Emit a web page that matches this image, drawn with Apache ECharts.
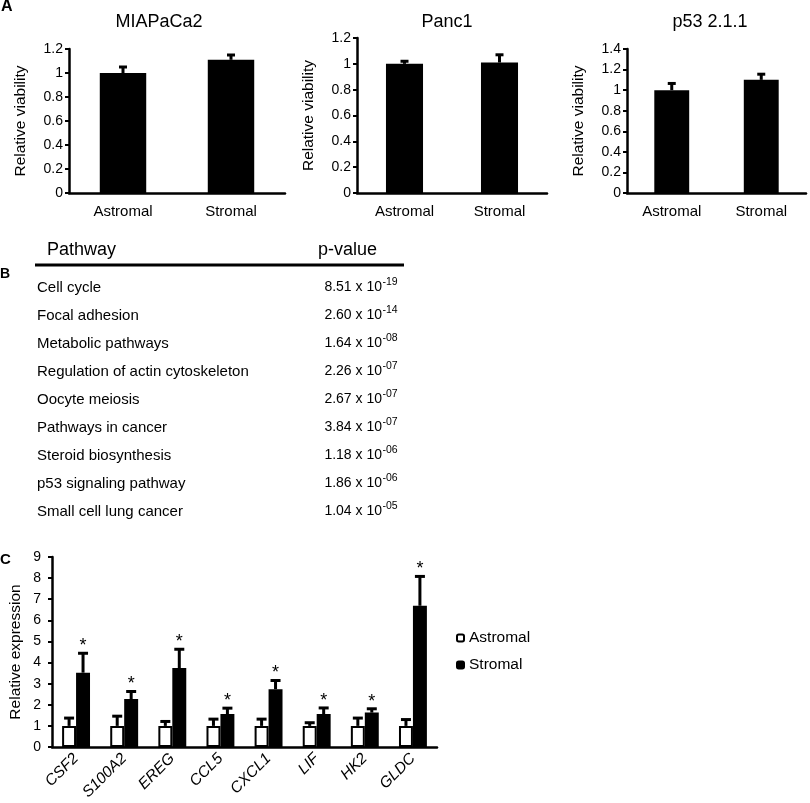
<!DOCTYPE html>
<html>
<head>
<meta charset="utf-8">
<script src="https://cdn.jsdelivr.net/npm/echarts@6/dist/echarts.min.js"></script>
<style>
  html, body { margin: 0; padding: 0; background: #fff; }
  #chart { width: 810px; height: 803px; }
</style>
</head>
<body>
<div id="chart"></div>
<script>
// ---------- Data ----------
const panelATitles = ['MIAPaCa2', 'Panc1', 'p53 2.1.1'];
const panelACategories = ['Astromal', 'Stromal'];
const miapacaValues = [1.00, 1.11];
const miapacaErrors = [0.05, 0.04];
const panc1Values = [1.00, 1.01];
const panc1Errors = [0.02, 0.06];
const p53Values = [1.00, 1.10];
const p53Errors = [0.065, 0.055];
const panelAMax = [1.2, 1.2, 1.4];

const pathways = ['Cell cycle', 'Focal adhesion', 'Metabolic pathways', 'Regulation of actin cytoskeleton',
  'Oocyte meiosis', 'Pathways in cancer', 'Steroid biosynthesis', 'p53 signaling pathway', 'Small cell lung cancer'];
const pMantissa = ['8.51', '2.60', '1.64', '2.26', '2.67', '3.84', '1.18', '1.86', '1.04'];
const pExponent = ['-19', '-14', '-08', '-07', '-07', '-07', '-06', '-06', '-05'];

const genes = ['CSF2', 'S100A2', 'EREG', 'CCL5', 'CXCL1', 'LIF', 'HK2', 'GLDC'];
const astromalExpr = [1, 1, 1, 1, 1, 1, 1, 1];
const astromalErr = [0.37, 0.46, 0.21, 0.32, 0.32, 0.15, 0.37, 0.30];
const stromalExpr = [3.52, 2.27, 3.74, 1.56, 2.74, 1.56, 1.63, 6.69];
const stromalErr = [0.92, 0.36, 0.89, 0.28, 0.41, 0.29, 0.18, 1.39];
const stromalSignificant = [1, 1, 1, 1, 1, 1, 1, 1];

// ---------- Helpers ----------
const FONT = '"Liberation Sans", Arial, Helvetica, sans-serif';
const BLACK = '#000';

function errorRenderer(capHalf, lw) {
  return function (params, api) {
    const x = api.value(0), v = api.value(1), e = api.value(2), off = api.value(3), star = api.value(4);
    const bw = api.size([1, 0])[0];
    const p0 = api.coord([x, v]);
    const p1 = api.coord([x, v + e]);
    const cx = p0[0] + off * bw;
    const children = [
      { type: 'line', shape: { x1: cx, y1: p0[1], x2: cx, y2: p1[1] }, style: { stroke: BLACK, lineWidth: lw } },
      { type: 'line', shape: { x1: cx - capHalf, y1: p1[1], x2: cx + capHalf, y2: p1[1] }, style: { stroke: BLACK, lineWidth: lw } }
    ];
    if (star) {
      children.push({ type: 'text', x: cx, y: p1[1] + 2,
        style: { text: '*', align: 'center', verticalAlign: 'bottom', fontSize: 18, fontFamily: FONT, fill: BLACK } });
    }
    return { type: 'group', children };
  };
}

const chart = echarts.init(document.getElementById('chart'), null, { renderer: 'canvas' });

const gridsA = [
  { left: 69, top: 49, width: 216, height: 144 },
  { left: 357, top: 38, width: 190, height: 155 },
  { left: 627, top: 49, width: 179, height: 144 }
];
const gridC = { left: 52, top: 557, width: 385, height: 190 };

const valuesA = [miapacaValues, panc1Values, p53Values];
const errorsA = [miapacaErrors, panc1Errors, p53Errors];
const barWidthA = ['43%', '39%', '39%'];

const grid = [...gridsA, gridC];
const xAxis = [];
const yAxis = [];
const series = [];

for (let i = 0; i < 3; i++) {
  xAxis.push({
    type: 'category', gridIndex: i, data: panelACategories,
    axisLine: { lineStyle: { color: BLACK, width: 2.5 } },
    axisTick: { length: 5, lineStyle: { color: BLACK, width: 2 } },
    axisLabel: { color: BLACK, fontSize: 15, fontFamily: FONT, margin: 11 }
  });
  yAxis.push({
    type: 'value', gridIndex: i, min: 0, max: panelAMax[i], interval: 0.2,
    name: 'Relative viability', nameLocation: 'middle', nameGap: 40,
    nameTextStyle: { color: BLACK, fontSize: 15.5, fontFamily: FONT },
    axisLine: { show: true, lineStyle: { color: BLACK, width: 2.5 } },
    axisTick: { show: true, length: 4, lineStyle: { color: BLACK, width: 2 } },
    splitLine: { show: false },
    axisLabel: { color: BLACK, fontSize: 14, fontFamily: FONT, margin: 6 }
  });
  series.push({
    type: 'bar', xAxisIndex: i, yAxisIndex: i, data: valuesA[i], barWidth: barWidthA[i],
    itemStyle: { color: BLACK }, silent: true, animation: false
  });
  series.push({
    type: 'custom', xAxisIndex: i, yAxisIndex: i, z: 5, animation: false,
    renderItem: errorRenderer(4, 3),
    data: valuesA[i].map((v, k) => [k, v, errorsA[i][k], 0, 0])
  });
}

xAxis.push({
  type: 'category', gridIndex: 3, data: genes,
  axisLine: { lineStyle: { color: BLACK, width: 2.5 } },
  axisTick: { length: 5, lineStyle: { color: BLACK, width: 2 } },
  axisLabel: { color: BLACK, fontSize: 15.5, fontStyle: 'italic', fontFamily: FONT, rotate: 45, interval: 0, margin: 9 }
});
yAxis.push({
  type: 'value', gridIndex: 3, min: 0, max: 9, interval: 1,
  name: 'Relative expression', nameLocation: 'middle', nameGap: 28,
  nameTextStyle: { color: BLACK, fontSize: 15.5, fontFamily: FONT },
  axisLine: { show: true, lineStyle: { color: BLACK, width: 2.5 } },
  axisTick: { show: true, length: 4, lineStyle: { color: BLACK, width: 2 } },
  splitLine: { show: false },
  axisLabel: { color: BLACK, fontSize: 14, fontFamily: FONT, margin: 11 }
});
series.push({
  name: 'Astromal', type: 'bar', xAxisIndex: 3, yAxisIndex: 3, data: astromalExpr,
  barWidth: '29%', barGap: '0%', animation: false,
  itemStyle: { color: '#fff', borderColor: BLACK, borderWidth: 2 }
});
series.push({
  name: 'Stromal', type: 'bar', xAxisIndex: 3, yAxisIndex: 3, data: stromalExpr,
  barWidth: '29%', barGap: '0%', animation: false,
  itemStyle: { color: BLACK, borderColor: BLACK, borderWidth: 2 }
});
series.push({
  type: 'custom', xAxisIndex: 3, yAxisIndex: 3, z: 5, animation: false,
  renderItem: errorRenderer(5, 3),
  data: astromalExpr.map((v, k) => [k, v, astromalErr[k], -0.145, 0])
});
series.push({
  type: 'custom', xAxisIndex: 3, yAxisIndex: 3, z: 5, animation: false,
  renderItem: errorRenderer(5, 3),
  data: stromalExpr.map((v, k) => [k, v, stromalErr[k], 0.145, stromalSignificant[k]])
});

// ---------- Graphic: panel letters, titles, table ----------
const graphic = [];
function txt(x, y, text, size, opts) {
  return Object.assign({ type: 'text', x, y, silent: true,
    style: Object.assign({ text, fontSize: size, fontFamily: FONT, fill: BLACK, align: 'left', verticalAlign: 'middle' }, opts || {}) });
}
graphic.push(txt(1, 7, 'A', 16, { fontWeight: 'bold' }));
graphic.push(txt(0, 274, 'B', 14, { fontWeight: 'bold' }));
graphic.push(txt(0, 560, 'C', 15, { fontWeight: 'bold' }));

const titleCenters = [159, 447, 710];
panelATitles.forEach((t, i) => graphic.push(txt(titleCenters[i], 22, t, 18, { align: 'center' })));

graphic.push(txt(47, 250, 'Pathway', 18));
graphic.push(txt(318, 250, 'p-value', 18));
graphic.push({ type: 'line', silent: true, shape: { x1: 35, y1: 265, x2: 404, y2: 265 }, style: { stroke: BLACK, lineWidth: 3 } });
pathways.forEach((p, i) => {
  const y = 287.5 + 28 * i;
  graphic.push(txt(37, y, p, 15));
  graphic.push(txt(382, y, pMantissa[i] + ' x 10', 14, { align: 'right' }));
  graphic.push(txt(382.5, y - 5, pExponent[i], 10.5));
});

chart.setOption({
  animation: false,
  backgroundColor: '#fff',
  textStyle: { fontFamily: FONT },
  grid, xAxis, yAxis, series, graphic,
  legend: {
    data: ['Astromal', 'Stromal'], orient: 'vertical', left: 451, top: 625,
    itemWidth: 7, itemHeight: 7, itemGap: 11,
    textStyle: { color: BLACK, fontSize: 15.5, fontFamily: FONT },
    selectedMode: false
  }
});
</script>
</body>
</html>
